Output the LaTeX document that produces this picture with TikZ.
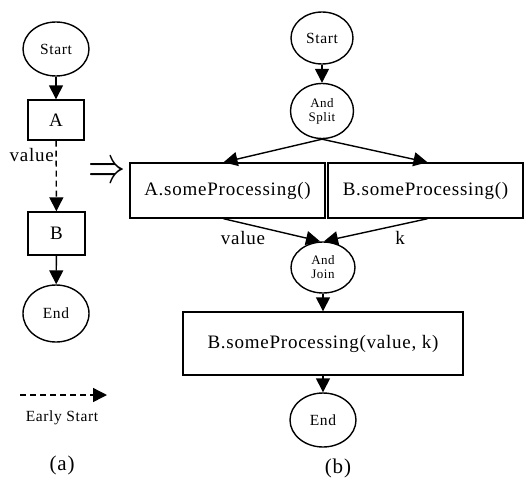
\documentclass[tikz,border=0pt]{standalone}
\usepackage{fontspec}
\setmainfont[LetterSpace=4]{Liberation Serif}
\usetikzlibrary{arrows.meta,shapes.geometric}
\begin{document}
\begin{tikzpicture}[x=1pt,y=-1pt,
  lw/.style={line width=1.4pt},
  ell/.style={ellipse,draw,lw,inner sep=0pt,align=center},
  box/.style={rectangle,draw,lw,inner sep=0pt,font=\fontsize{19}{19}\selectfont},
  arr/.style={lw,-{Triangle[length=14pt,width=14pt]}},
  darr/.style={lw,dash pattern=on 6pt off 4pt,-{Triangle[length=14pt,width=14pt]}},
  lbl/.style={inner sep=0pt,font=\fontsize{19}{19}\selectfont},
  small/.style={font=\fontsize{13}{14}\selectfont},
  mid/.style={font=\fontsize{15.5}{16}\selectfont}]
\useasboundingbox (0,0) rectangle (526,479);
% (a)
\node[ell,mid,minimum width=66pt,minimum height=54pt] (sL) at (56,49) {Start};
\node[box,minimum width=56pt,minimum height=40pt] (A) at (56,120) {A};
\node[box,minimum width=57pt,minimum height=43pt] (B) at (56.5,233.5) {B};
\node[ell,mid,minimum width=66pt,minimum height=57pt] (eL) at (56,313.5) {End};
\node[lbl,anchor=east] (vL) at (54,155) {value};
\draw[arr] (sL) -- (A);
\draw[darr] (A) -- (B);
\draw[arr] (B) -- (eL);
\coordinate (lg1) at (20,395);
\coordinate (lg2) at (107,395);
\draw[darr] (lg1) -- (lg2);
\node[mid] (es) at (62,418) {Early Start};
\node[font=\fontsize{21}{21}\selectfont] (la) at (62,465) {(a)};
\node[inner sep=0pt] (imp) at (106.5,172.5) {\resizebox{37pt}{19pt}{$\Rightarrow$}};
% (b)
\node[ell,mid,minimum width=62pt,minimum height=52pt] (sR) at (322,38) {Start};
\node[ell,small,minimum width=63pt,minimum height=55pt] (split) at (322,111) {And\\Split};
\node[box,minimum width=195pt,minimum height=55pt] (Ap) at (227.5,190.5) {A.someProcessing()};
\node[box,minimum width=195pt,minimum height=55pt] (Bp) at (425.5,190.5) {B.someProcessing()};
\node[ell,small,minimum width=64pt,minimum height=51pt] (join) at (323,267.5) {And\\Join};
\node[box,minimum width=280pt,minimum height=63pt] (big) at (323,343.5) {B.someProcessing(value, k)};
\node[ell,mid,minimum width=66pt,minimum height=54pt] (eR) at (323,420) {End};
\node[lbl] (vR) at (243,238) {value};
\node[lbl] (kR) at (400,238) {k};
\node[font=\fontsize{21}{21}\selectfont] (lb) at (338,468) {(b)};
\draw[arr] (sR) -- (split);
\draw[arr] (split.south) -- ([xshift=-4pt]Ap.north);
\draw[arr] (split.south) -- ([xshift=2pt]Bp.north);
\draw[arr] ([xshift=-4pt]Ap.south) -- ([xshift=-3pt]join.north);
\draw[arr] ([xshift=2pt]Bp.south) -- ([xshift=1pt]join.north);
\draw[arr] (join) -- (big);
\draw[arr] (big) -- (eR);
\end{tikzpicture}
\end{document}
